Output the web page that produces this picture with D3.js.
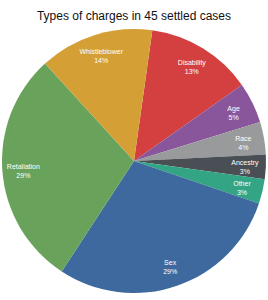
<!DOCTYPE html>
<html>
<head>
<meta charset="utf-8">
<script src="https://cdn.jsdelivr.net/npm/d3@7"></script>
<style>
body { margin: 0; background: #fff; }
text { font-family: "Liberation Sans", Arial, Helvetica, sans-serif; }
</style>
</head>
<body>
<div></div>
<script>
var width = 268;
var height = 300;

var categories = ["Disability", "Age", "Race", "Ancestry", "Other", "Sex", "Retaliation", "Whistleblower"];
var values = [13, 5, 4, 3, 3, 29, 29, 14];
var colors = ["#d3403f", "#8a569b", "#999a9b", "#4a4e55", "#33a584", "#3d699e", "#69a35b", "#d4a036"];

var svg = d3.select("div")
    .append("svg")
    .attr("width", width)
    .attr("height", height);

svg.append("text")
    .attr("x", width / 2)
    .attr("y", 20)
    .attr("text-anchor", "middle")
    .style("font-size", "12px")
    .attr("fill", "#111")
    .text("Types of charges in 45 settled cases");

var radius = 132;
var g = svg.append("g")
    .attr("transform", "translate(134,161)");

var offset = 8 * Math.PI / 180;
var pie = d3.pie()
    .sort(null)
    .startAngle(offset)
    .endAngle(offset + 2 * Math.PI);

var arcs = pie(values);
var arc = d3.arc().innerRadius(0).outerRadius(radius);
var labelArc = d3.arc().innerRadius(111).outerRadius(111);

g.selectAll("path")
    .data(arcs)
    .enter()
    .append("path")
    .attr("d", arc)
    .attr("fill", function (d, i) { return colors[i]; });

var total = d3.sum(values);
var labels = g.selectAll("text.lbl")
    .data(arcs)
    .enter()
    .append("text")
    .attr("class", "lbl")
    .attr("text-anchor", "middle")
    .attr("fill", "#fff")
    .style("font-size", "7px")
    .attr("transform", function (d) { return "translate(" + labelArc.centroid(d) + ")"; });

labels.append("tspan")
    .attr("x", 0)
    .attr("y", -1)
    .text(function (d, i) { return categories[i]; });
labels.append("tspan")
    .attr("x", 0)
    .attr("y", 8)
    .text(function (d) { return Math.round(d.value / total * 100) + "%"; });
</script>
</body>
</html>
